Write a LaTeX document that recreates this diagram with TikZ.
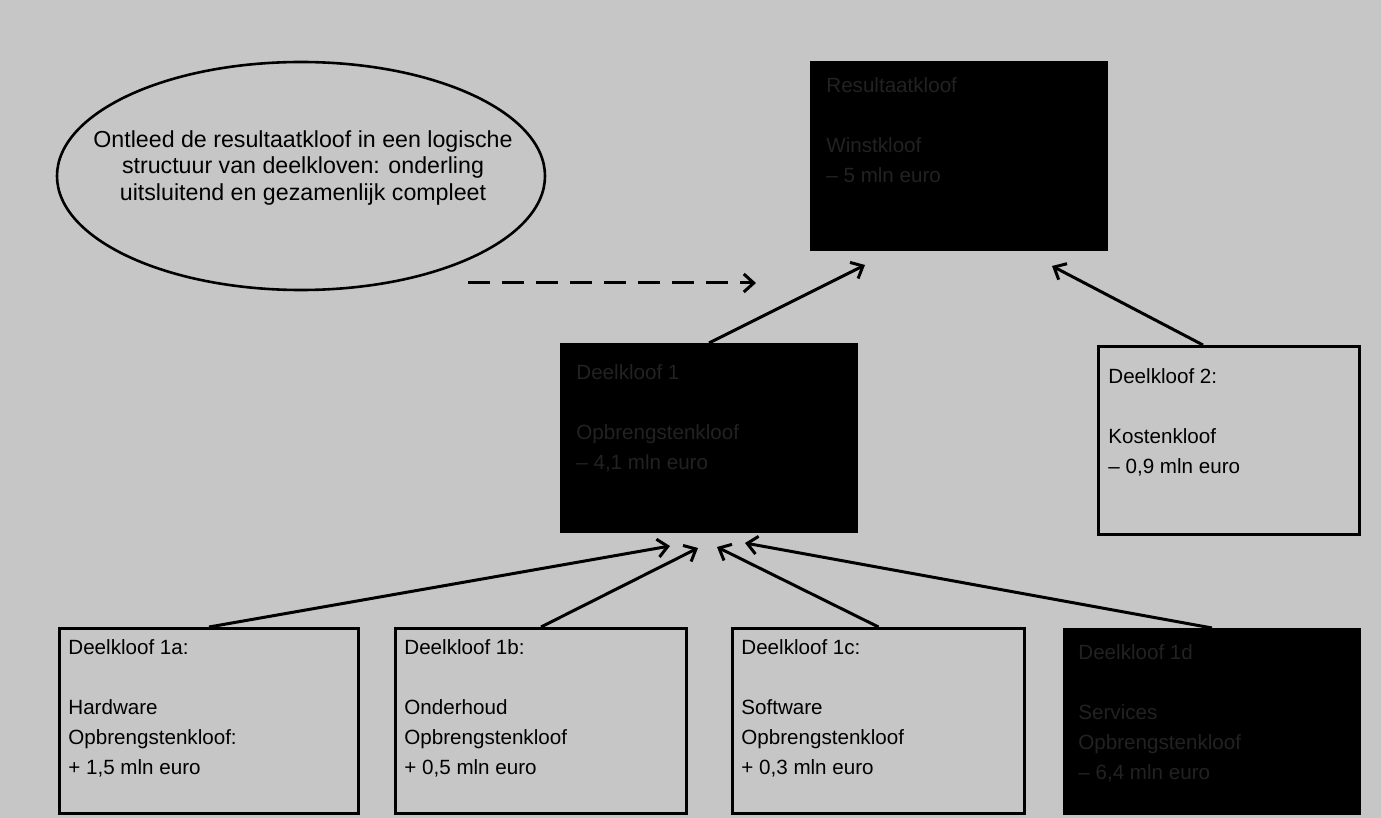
\documentclass[tikz,border=0pt]{standalone}
\usepackage{fontspec}
\setmainfont{Liberation Sans}
\usetikzlibrary{arrows.meta,shapes.geometric,calc}
\definecolor{bgc}{RGB}{198,198,198}
\definecolor{dimtext}{RGB}{34,34,34}
\tikzset{
  wbox/.style={draw=black, line width=1.5pt, anchor=north west, inner sep=0pt},
  bbox/.style={draw=black, fill=black, line width=1.5pt, anchor=north west, inner sep=0pt},
  btext/.style={anchor=north west, inner sep=0pt, align=left, font=\fontsize{10.3}{15}\selectfont},
  dtext/.style={btext, text=dimtext},
  arr/.style={line width=1.5pt, -{Straight Barb[length=5pt,width=9pt,line width=1.5pt]}},
  darr/.style={arr, dash pattern=on 11pt off 6pt},
  oval/.style={ellipse, draw=black, line width=1.3pt, inner sep=0pt},
  ovaltext/.style={inner sep=0pt, align=center, font=\fontsize{11.6}{13.2}\selectfont}
}
\begin{document}
\begin{tikzpicture}[x=0.5pt,y=-0.5pt]
\useasboundingbox[fill=bgc] (0,0) rectangle (1381,818);
% boxes
\node[bbox, minimum width=147.5pt, minimum height=93.5pt] (r) at (810,61) {};
\node[bbox, minimum width=147.5pt, minimum height=93.5pt] (d1) at (560,343) {};
\node[wbox, minimum width=130.5pt, minimum height=94pt] (d2) at (1097,345) {};
\node[wbox, minimum width=149.5pt, minimum height=92.5pt] (a) at (58,627) {};
\node[wbox, minimum width=145.5pt, minimum height=92.5pt] (b) at (394,627) {};
\node[wbox, minimum width=146pt, minimum height=92.5pt] (c) at (731,627) {};
\node[bbox, minimum width=147.5pt, minimum height=92pt] (d) at (1063,628) {};
% texts
\node[dtext] (rt) at (826,77) {Resultaatkloof\\[15pt]Winstkloof\\– 5 mln euro};
\node[dtext] (d1t) at (576,364) {Deelkloof 1\\[15pt]Opbrengstenkloof\\– 4,1 mln euro};
\node[btext] (d2t) at (1108,368) {Deelkloof 2:\\[15pt]Kostenkloof\\– 0,9 mln euro};
\node[btext] (at) at (68,639) {Deelkloof 1a:\\[15pt]Hardware\\Opbrengstenkloof:\\+ 1,5 mln euro};
\node[btext] (bt) at (404,639) {Deelkloof 1b:\\[15pt]Onderhoud\\Opbrengstenkloof\\+ 0,5 mln euro};
\node[btext] (ct) at (741,639) {Deelkloof 1c:\\[15pt]Software\\Opbrengstenkloof\\+ 0,3 mln euro};
\node[dtext] (dt) at (1078,644) {Deelkloof 1d\\[15pt]Services\\Opbrengstenkloof\\– 6,4 mln euro};
% ellipse
\node[oval, minimum width=244pt, minimum height=114pt] (e) at (301,176) {};
\node[ovaltext] (et) at (303,168)
  {Ontleed de resultaatkloof in een logische\\structuur van deelkloven: onderling\\uitsluitend en gezamenlijk compleet};
% dashed arrow
\coordinate (ds) at (468,283);
\coordinate (de) at (756,283);
\draw[darr] (ds) -- (de);
% arrows
\draw[arr] (d1.north) -- ($(r.south west)+(55,14)$);
\draw[arr] ($(d2.north west)+(106,0)$) -- ($(r.south west)+(242,15)$);
\draw[arr] (a.north) -- ($(d1.south west)+(110,13)$);
\draw[arr] (b.north) -- ($(d1.south west)+(138,15)$);
\draw[arr] (c.north) -- ($(d1.south west)+(157,14)$);
\draw[arr] (d.north) -- ($(d1.south west)+(185,10)$);
\end{tikzpicture}
\end{document}
